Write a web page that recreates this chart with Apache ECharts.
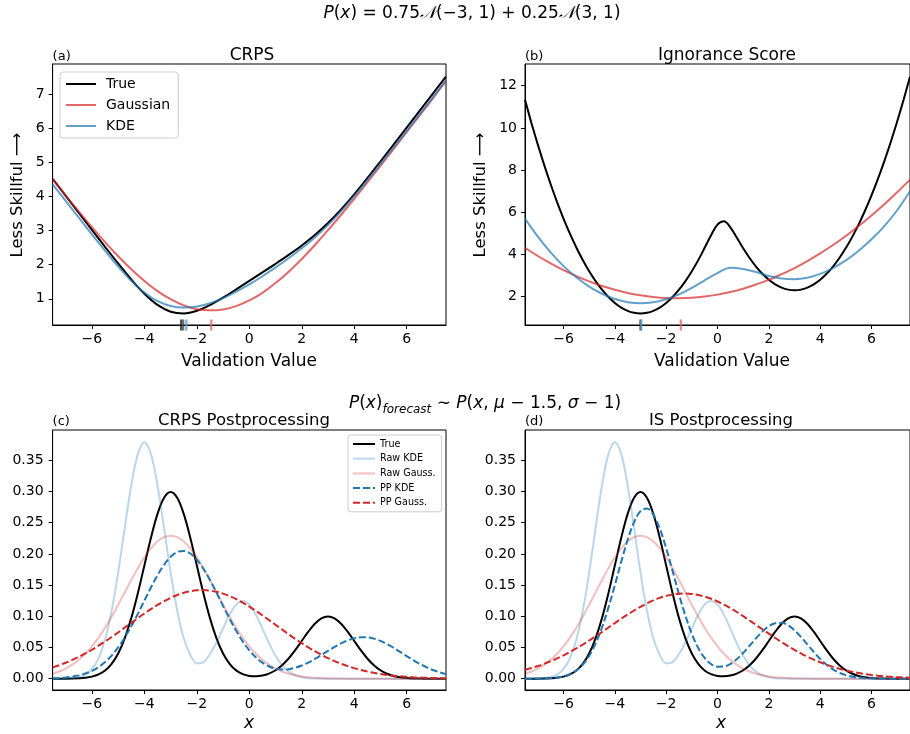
<!DOCTYPE html>
<html><head><meta charset="utf-8">
<script src="https://cdn.jsdelivr.net/npm/echarts@6/dist/echarts.min.js"></script>
<style>html,body{margin:0;padding:0;background:#fff}#c{width:910px;height:734px}</style>
</head><body><div id="c"></div>
<script>
// ---------- data ----------
const xHalf = [-7.5,-7,-6.5,-6,-5.5,-5,-4.5,-4,-3.5,-3,-2.5,-2,-1.5,-1,-0.5,0,0.5,1,1.5,2,2.5,3,3.5,4,4.5,5,5.5,6,6.5,7,7.5];
const xQuarter = [-7.5,-7.25,-7,-6.75,-6.5,-6.25,-6,-5.75,-5.5,-5.25,-5,-4.75,-4.5,-4.25,-4,-3.75,-3.5,-3.25,-3,-2.75,-2.5,-2.25,-2,-1.75,-1.5,-1.25,-1,-0.75,-0.5,-0.25,0,0.25,0.5,0.75,1,1.25,1.5,1.75,2,2.25,2.5,2.75,3,3.25,3.5,3.75,4,4.25,4.5,4.75,5,5.25,5.5,5.75,6,6.25,6.5,6.75,7,7.25,7.5];

// (a) CRPS vs validation value (x = xHalf)
const crpsTrue  = [4.522,4.022,3.522,3.023,2.525,2.035,1.566,1.147,0.819,0.621,0.569,0.647,0.816,1.035,1.275,1.523,1.773,2.026,2.287,2.564,2.871,3.222,3.621,4.064,4.537,5.026,5.523,6.022,6.522,7.022,7.522];
const crpsGauss = [4.509,4.029,3.559,3.101,2.662,2.248,1.865,1.522,1.226,0.987,0.806,0.693,0.660,0.688,0.785,0.950,1.174,1.46,1.794,2.167,2.577,3.012,3.466,3.933,4.413,4.901,5.393,5.888,6.385,6.884,7.400];
const crpsKDE   = [4.36,3.87,3.38,2.89,2.41,1.95,1.53,1.18,0.93,0.79,0.745,0.77,0.87,1.02,1.21,1.42,1.66,1.92,2.19,2.48,2.80,3.16,3.57,4.01,4.48,4.96,5.44,5.93,6.42,6.91,7.40];
const rugA = [-2.6,-2.52,-2.4,-1.45];

// (b) Ignorance score (isTrue on xQuarter, others on xHalf)
const isTrue  = [11.332,10.238,9.207,8.238,7.332,6.488,5.707,4.988,4.332,3.738,3.207,2.738,2.332,1.988,1.707,1.488,1.332,1.238,1.207,1.238,1.332,1.488,1.707,1.988,2.332,2.738,3.206,3.734,4.318,4.916,5.419,5.573,5.291,4.804,4.298,3.834,3.430,3.086,2.805,2.586,2.430,2.336,2.305,2.336,2.430,2.586,2.805,3.086,3.430,3.836,4.305,4.836,5.430,6.086,6.805,7.586,8.430,9.336,10.305,11.336,12.430];
const isGauss = [4.32,3.93,3.58,3.26,2.98,2.73,2.51,2.33,2.18,2.07,1.99,1.94,1.93,1.95,2.01,2.10,2.22,2.38,2.58,2.80,3.07,3.36,3.69,4.05,4.45,4.88,5.35,5.85,6.38,6.95,7.55];
const isKDE   = [5.70,4.85,4.10,3.45,2.92,2.48,2.14,1.89,1.74,1.69,1.74,1.88,2.11,2.42,2.78,3.12,3.37,3.31,3.17,2.98,2.86,2.83,2.90,3.08,3.36,3.72,4.18,4.72,5.35,6.10,7.00];
const rugB = [-3.0,-2.97,-1.43];

// (c), (d) densities (x = xQuarter)
const pTrue     = [0.0000,0.0000,0.0001,0.0003,0.0007,0.0015,0.0033,0.0068,0.0131,0.0238,0.0405,0.0647,0.0971,0.1370,0.1815,0.2259,0.2641,0.2900,0.2992,0.2900,0.2641,0.2259,0.1815,0.1370,0.0971,0.0647,0.0405,0.0239,0.0133,0.0073,0.0044,0.0038,0.0050,0.0082,0.0136,0.0216,0.0324,0.0457,0.0605,0.0753,0.0880,0.0967,0.0997,0.0967,0.0880,0.0753,0.0605,0.0457,0.0324,0.0216,0.0135,0.0079,0.0044,0.0023,0.0011,0.0005,0.0002,0.0001,0.0000,0.0000,0.0000];
const pRawKDE   = [0.0000,0.0001,0.0003,0.0009,0.0026,0.0066,0.0155,0.0326,0.0623,0.1085,0.1700,0.2413,0.3100,0.3599,0.3790,0.3599,0.3100,0.2413,0.1700,0.1094,0.0647,0.0381,0.0245,0.0265,0.0395,0.0580,0.0806,0.1027,0.1187,0.1247,0.1187,0.1026,0.0803,0.0571,0.0369,0.0215,0.0113,0.0055,0.0024,0.0009,0.0003,0.0001,0,0,0,0,0,0,0,0,0,0,0,0,0,0,0,0,0,0,0];
const pRawGauss = [0.0080,0.0116,0.0163,0.0225,0.0304,0.0401,0.0518,0.0658,0.0816,0.0993,0.1185,0.1382,0.1582,0.1772,0.1944,0.2090,0.2200,0.2269,0.2293,0.2269,0.2200,0.2090,0.1944,0.1772,0.1582,0.1382,0.1185,0.0993,0.0816,0.0658,0.0518,0.0401,0.0304,0.0225,0.0163,0.0116,0.0080,0.0055,0.0037,0.0024,0.0016,0.0010,0.0006,0.0004,0.0002,0.0001,0.0001,0,0,0,0,0,0,0,0,0,0,0,0,0,0];
const pPPKDEc   = [0.0007,0.0011,0.0020,0.0033,0.0053,0.0083,0.0125,0.0185,0.0266,0.0371,0.0501,0.0659,0.0839,0.1039,0.1252,0.1462,0.1658,0.1827,0.1954,0.2030,0.2048,0.2007,0.1909,0.1763,0.1583,0.1380,0.1167,0.0960,0.0769,0.0599,0.0455,0.0342,0.0257,0.0196,0.0162,0.0148,0.0153,0.0175,0.0211,0.0259,0.0316,0.0380,0.0445,0.0509,0.0566,0.0614,0.0647,0.0663,0.0662,0.0642,0.0606,0.0555,0.0496,0.0430,0.0363,0.0298,0.0238,0.0185,0.0140,0.0103,0.0073];
const pPPGaussc = [0.0182,0.0216,0.0256,0.0301,0.0351,0.0406,0.0464,0.0529,0.0597,0.0668,0.0742,0.0818,0.0895,0.0971,0.1045,0.1116,0.1182,0.1242,0.1297,0.1341,0.1377,0.1402,0.1416,0.1420,0.1412,0.1393,0.1364,0.1324,0.1275,0.1219,0.1156,0.1088,0.1015,0.0940,0.0864,0.0788,0.0712,0.0639,0.0569,0.0503,0.0441,0.0383,0.0330,0.0283,0.0240,0.0202,0.0169,0.0140,0.0115,0.0094,0.0076,0.0061,0.0049,0.0038,0.0030,0.0023,0.0018,0.0014,0.0011,0.0008,0.0006];
const pPPKDEd   = [0.0000,0.0001,0.0002,0.0004,0.0009,0.0019,0.0038,0.0073,0.0131,0.0224,0.0364,0.0561,0.0820,0.1139,0.1499,0.1875,0.2226,0.2509,0.2685,0.2727,0.2630,0.2407,0.2091,0.1728,0.1351,0.1009,0.0717,0.0492,0.0332,0.0234,0.0192,0.0195,0.0236,0.0312,0.0413,0.0528,0.0647,0.0756,0.0842,0.0890,0.0895,0.0855,0.0776,0.0670,0.0550,0.0429,0.0318,0.0224,0.0150,0.0095,0.0058,0.0033,0.0018,0.0009,0.0005,0.0002,0.0001,0.0000,0.0000,0.0000,0.0000];
const pPPGaussd = [0.0144,0.0172,0.0203,0.0240,0.0280,0.0325,0.0374,0.0428,0.0486,0.0547,0.0612,0.0680,0.0749,0.0821,0.0891,0.0962,0.1029,0.1093,0.1153,0.1208,0.1256,0.1296,0.1328,0.1350,0.1363,0.1366,0.1359,0.1342,0.1316,0.1281,0.1237,0.1186,0.1130,0.1069,0.1002,0.0933,0.0863,0.0792,0.0722,0.0653,0.0586,0.0522,0.0461,0.0406,0.0353,0.0306,0.0263,0.0224,0.0190,0.0160,0.0133,0.0111,0.0090,0.0074,0.0060,0.0048,0.0039,0.0030,0.0024,0.0019,0.0015];

// ticks
const xTicks = [-6,-4,-2,0,2,4,6];
const yTicksA = [1,2,3,4,5,6,7];
const yTicksB = [2,4,6,8,10,12];
const yTicksC = [0,0.05,0.1,0.15,0.2,0.25,0.3,0.35];

// ---------- chart ----------
const F = 'DejaVu Sans';
const BLACK = '#000000';
const RED7 = 'rgba(214,39,40,0.7)', BLUE7 = 'rgba(31,119,180,0.7)';
const RED3 = 'rgba(214,39,40,0.3)', BLUE3 = 'rgba(31,119,180,0.3)';
const RED = '#d62728', BLUE = '#1f77b4';
const pairs = (xs, ys) => xs.map((x, i) => [x, ys[i]]);
const minus = v => (v < 0 ? '\u2212' + Math.abs(v) : String(v));

const grids = [
  {left: 52.6, top: 64, width: 393.4, height: 261},
  {left: 525, top: 64, width: 393, height: 261},
  {left: 52.6, top: 430, width: 393.4, height: 260},
  {left: 525, top: 430, width: 393, height: 260}
].map(g => Object.assign(g, {show: true, borderColor: '#000', borderWidth: 1, backgroundColor: 'transparent', containLabel: false}));

function xAx(gi) {
  return {type: 'value', gridIndex: gi, min: -7.5, max: 7.5,
    axisLine: {show: true, onZero: false, lineStyle: {color: '#000', width: 1}},
    axisTick: {show: true, length: 4, customValues: xTicks, lineStyle: {color: '#000', width: 1}},
    axisLabel: {customValues: xTicks, formatter: minus, fontSize: 14, fontFamily: F, color: '#000', margin: 7},
    splitLine: {show: false}};
}
function yAx(gi, min, max, ticks, fmt, margin) {
  return {type: 'value', gridIndex: gi, min: min, max: max,
    axisLine: {show: true, onZero: false, lineStyle: {color: '#000', width: 1}},
    axisTick: {show: true, length: 4, customValues: ticks, lineStyle: {color: '#000', width: 1}},
    axisLabel: {customValues: ticks, formatter: fmt, fontSize: 14, fontFamily: F, color: '#000', margin: margin},
    splitLine: {show: false}};
}
function line(name, gi, xs, ys, color, dashed) {
  return {type: 'line', name: name, xAxisIndex: gi, yAxisIndex: gi, data: pairs(xs, ys),
    symbol: 'none', smooth: 0.35, silent: true, clip: true,
    lineStyle: {color: color, width: 2, type: dashed ? [7, 3] : 'solid'},
    itemStyle: {color: color}};
}
function rug(gi, xs, yv, colors) {
  return {type: 'scatter', xAxisIndex: gi, yAxisIndex: gi, silent: true, clip: false, z: 6,
    symbol: 'rect', symbolSize: [2.2, 11],
    data: xs.map((x, i) => ({value: [x, yv], itemStyle: {color: colors[i]}}))};
}

function txt(x, y, text, size, extra) {
  return Object.assign({type: 'text', x: x, y: y, silent: true,
    style: Object.assign({text: text, fontSize: size, fontFamily: F, fill: '#000', align: 'center', verticalAlign: 'middle'}, (extra && extra.style) || {})},
    extra && extra.rotation !== undefined ? {rotation: extra.rotation} : {});
}

const richMain = {
  n: {fontSize: 17, fontFamily: F, color: '#000', lineHeight: 24, verticalAlign: 'middle'},
  i: {fontSize: 17, fontFamily: F, fontStyle: 'italic', color: '#000', lineHeight: 24, verticalAlign: 'middle'},
  c: {fontSize: 17, fontFamily: 'DejaVu Serif', fontStyle: 'italic', color: '#000', lineHeight: 24, verticalAlign: 'middle'},
  s: {fontSize: 12, fontFamily: F, fontStyle: 'italic', color: '#000', lineHeight: 12, verticalAlign: 'bottom'}
};

const option = {
  animation: false,
  backgroundColor: '#fff',
  grid: grids,
  xAxis: [xAx(0), xAx(1), xAx(2), xAx(3)],
  yAxis: [
    yAx(0, 0.23, 7.89, yTicksA, v => String(v), 8),
    yAx(1, 0.66, 13.03, yTicksB, v => String(v), 8),
    yAx(2, -0.0181, 0.3986, yTicksC, v => v.toFixed(2), 9),
    yAx(3, -0.0181, 0.3986, yTicksC, v => v.toFixed(2), 9)
  ],
  legend: [
    {data: ['True', 'Gaussian', 'KDE'], orient: 'vertical', left: 60, top: 72,
     itemWidth: 30, itemHeight: 12, itemGap: 7, padding: [5, 8, 5, 5],
     itemStyle: {opacity: 0, borderWidth: 0},
     textStyle: {fontSize: 14, fontFamily: F, color: '#000', padding: [0, 0, 0, 5]},
     backgroundColor: '#fff', borderColor: '#cccccc', borderWidth: 1, borderRadius: 3, selectedMode: false},
    {data: ['True', 'Raw KDE', 'Raw Gauss.', 'PP KDE', 'PP Gauss.'], orient: 'vertical', left: 348, top: 435,
     itemWidth: 22, itemHeight: 8, itemGap: 4.7, padding: [4, 6, 4, 4],
     itemStyle: {opacity: 0, borderWidth: 0},
     textStyle: {fontSize: 9.6, fontFamily: F, color: '#000'},
     backgroundColor: '#fff', borderColor: '#cccccc', borderWidth: 1, borderRadius: 3, selectedMode: false}
  ],
  series: [
    line('True', 0, xHalf, crpsTrue, BLACK),
    line('Gaussian', 0, xHalf, crpsGauss, RED7),
    line('KDE', 0, xHalf, crpsKDE, BLUE7),
    rug(0, rugA, 0.23, ['#222', '#444', '#5a9bc9', '#e0686a']),

    line('True', 1, xQuarter, isTrue, BLACK),
    line('Gaussian', 1, xHalf, isGauss, RED7),
    line('KDE', 1, xHalf, isKDE, BLUE7),
    rug(1, rugB, 0.66, ['#222', '#5a9bc9', '#e0686a']),

    line('True', 2, xQuarter, pTrue, BLACK),
    line('Raw KDE', 2, xQuarter, pRawKDE, BLUE3),
    line('Raw Gauss.', 2, xQuarter, pRawGauss, RED3),
    line('PP KDE', 2, xQuarter, pPPKDEc, BLUE, true),
    line('PP Gauss.', 2, xQuarter, pPPGaussc, RED, true),

    line('True', 3, xQuarter, pTrue, BLACK),
    line('Raw KDE', 3, xQuarter, pRawKDE, BLUE3),
    line('Raw Gauss.', 3, xQuarter, pRawGauss, RED3),
    line('PP KDE', 3, xQuarter, pPPKDEd, BLUE, true),
    line('PP Gauss.', 3, xQuarter, pPPGaussd, RED, true)
  ],
  graphic: [
    {type: 'text', x: 472, y: 14, silent: true,
     style: {text: '{i|P}{n|(}{i|x}{n|) = 0.75}{c|\uD835\uDCA9}{n|(\u22123, 1) + 0.25}{c|\uD835\uDCA9}{n|(3, 1)}', rich: richMain, align: 'center', verticalAlign: 'middle'}},
    txt(52.6, 57, '(a)', 13, {style: {align: 'left'}}),
    txt(252, 56, 'CRPS', 17),
    txt(525, 57, '(b)', 13, {style: {align: 'left'}}),
    txt(727, 56, 'Ignorance Score', 17),
    txt(249, 362, 'Validation Value', 17),
    txt(722, 362, 'Validation Value', 17),
    txt(18, 195, 'Less Skillful \u27F6', 16.5, {rotation: Math.PI / 2}),
    txt(481, 195, 'Less Skillful \u27F6', 16.5, {rotation: Math.PI / 2}),
    {type: 'text', x: 485, y: 404, silent: true,
     style: {text: '{i|P}{n|(}{i|x}{n|)}{s|forecast}{n| \u223C }{i|P}{n|(}{i|x}{n|, }{i|\u03BC}{n| \u2212 1.5, }{i|\u03C3}{n| \u2212 1)}', rich: richMain, align: 'center', verticalAlign: 'middle'}},
    txt(52.6, 422, '(c)', 13, {style: {align: 'left'}}),
    txt(244, 421, 'CRPS Postprocessing', 16.5),
    txt(525, 422, '(d)', 13, {style: {align: 'left'}}),
    txt(721, 421, 'IS Postprocessing', 16.5),
    txt(249, 724, 'x', 17, {style: {fontStyle: 'italic'}}),
    txt(721, 724, 'x', 17, {style: {fontStyle: 'italic'}})
  ]
};
const chart = echarts.init(document.getElementById('c'));
chart.setOption(option);
</script>
</body></html>
